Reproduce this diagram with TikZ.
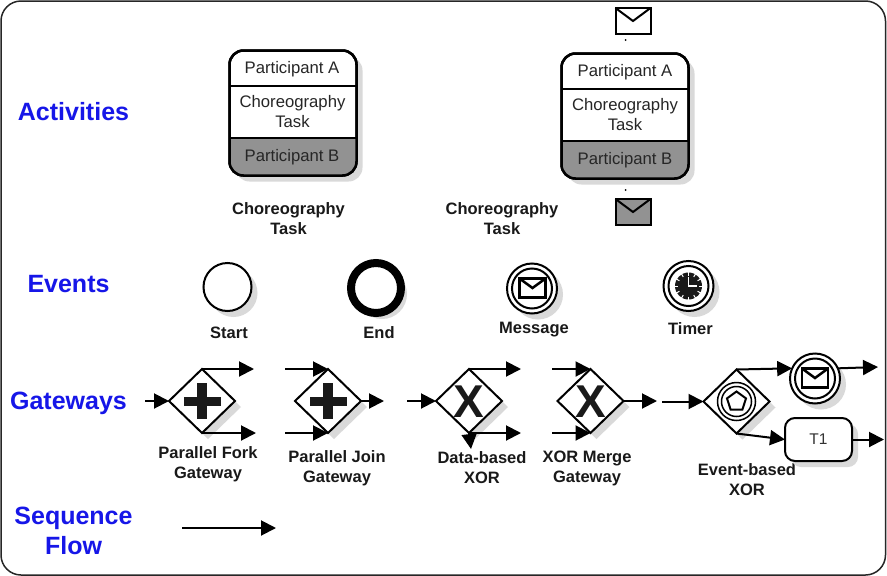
\documentclass[tikz,border=0pt]{standalone}
\usepackage{fontspec}
\setmainfont{Liberation Sans}
\usetikzlibrary{arrows.meta,shapes.geometric,shadows}
\definecolor{shgray}{RGB}{217,217,217}
\definecolor{partgray}{RGB}{146,146,146}
\definecolor{headblue}{RGB}{22,22,232}
\tikzset{
  frame/.style={draw=black!85,line width=1.5pt,rounded corners=20pt},
  shad/.style={drop shadow={shadow xshift=6pt,shadow yshift=-6pt,opacity=1,fill=shgray}},
  head/.style={font=\fontsize{25}{30}\selectfont\bfseries,text=headblue,align=center,inner sep=0pt},
  lab/.style={font=\fontsize{16.5}{20}\selectfont\bfseries,align=center,inner sep=0pt,text=black!90},
  inbox/.style={font=\fontsize{16.7}{20}\selectfont,align=center,inner sep=0pt,text=black!85},
  chor/.style={draw,line width=2.5pt,rounded corners=14pt,minimum width=127pt,minimum height=125pt,inner sep=0pt,outer sep=0pt,fill=white,shad},
  evt/.style={circle,draw,line width=2pt,inner sep=0pt,outer sep=0pt,fill=white,shad},
  gate/.style={diamond,draw,line width=2pt,inner sep=0pt,outer sep=0pt,fill=white,minimum width=66pt,minimum height=64pt,shad},
  xmark/.style={font=\fontsize{46}{46}\selectfont\bfseries,inner sep=0pt,text=black!90},
  flow/.style={draw,line width=2pt,-{Triangle[length=15pt,width=15pt]}},
  divider/.style={draw,line width=2.5pt},
  taskbox/.style={draw,line width=2pt,rounded corners=10pt,minimum width=67pt,minimum height=43pt,inner sep=0pt,outer sep=0pt,fill=white,shad,font=\fontsize{15.5}{18}\selectfont,text=black!80},
}
\newcommand{\envicon}[6]{%
  \begin{scope}[shift={(#1,#2)}]
    \draw[line width=#5,fill=#6,line join=miter] (-#3,-#4) rectangle (#3,#4);
    \draw[line width=#5,line join=miter] (-#3,-#4) -- (0,0) -- (#3,-#4);
  \end{scope}}
\newcommand{\plusmark}[2]{%
  \fill[black!90] (#1-18.5,#2-4.5) rectangle (#1+18.5,#2+4.5);
  \fill[black!90] (#1-5,#2-18) rectangle (#1+5,#2+18);}
\begin{document}
\begin{tikzpicture}[x=1pt,y=-1pt]
\useasboundingbox (0,0) rectangle (887,576);
\draw[frame,fill=white] (1,1) rectangle (885.5,575);

% headings
\node[head] (hact) at (73.5,112) {Activities};
\node[head] (hevt) at (68.5,284) {Events};
\node[head] (hgat) at (68.5,403) {Gateways};
\node[head] (hseq) at (73.5,530.5) {Sequence\\Flow};

% choreography task 1
\node[chor] (c1) at (293,113) {};
\begin{scope}
  \clip[rounded corners=14pt] (229,50) rectangle (356.5,175.5);
  \fill[partgray] (229,138) rectangle (357,176);
\end{scope}
\draw[line width=2.5pt,rounded corners=14pt] (229.5,50.5) rectangle (356.5,175.5);
\coordinate (c1al) at (229,86); \coordinate (c1ar) at (357,86);
\coordinate (c1bl) at (229,138); \coordinate (c1br) at (357,138);
\draw[divider] (c1al) -- (c1ar);
\draw[divider] (c1bl) -- (c1br);
\node[inbox] (c1a) at (292,69) {Participant A};
\node[inbox] (c1t) at (292.5,112) {Choreography\\Task};
\node[inbox] (c1p) at (292,157) {Participant B};
\node[lab] (l1) at (288.5,219) {Choreography\\Task};

% choreography task 2
\node[chor] (c2) at (625,116) {};
\begin{scope}
  \clip[rounded corners=14pt] (561.5,53.5) rectangle (688.5,178.5);
  \fill[partgray] (561,141) rectangle (689,179);
\end{scope}
\draw[line width=2.5pt,rounded corners=14pt] (561.5,53.5) rectangle (688.5,178.5);
\coordinate (c2al) at (561,89); \coordinate (c2ar) at (689,89);
\coordinate (c2bl) at (561,141); \coordinate (c2br) at (689,141);
\draw[divider] (c2al) -- (c2ar);
\draw[divider] (c2bl) -- (c2br);
\node[inbox] (c2a) at (625,72) {Participant A};
\node[inbox] (c2t) at (625,115) {Choreography\\Task};
\node[inbox] (c2p) at (625,160) {Participant B};
\node[lab] (l2) at (502,219) {Choreography\\Task};
\envicon{633}{21}{17.5}{13}{2pt}{white}
\envicon{633}{212}{17.5}{13}{2pt}{partgray}
\fill (625.5,40) circle (1pt);
\fill (625.5,190) circle (1pt);

% events
\node[evt,minimum size=48pt] (start) at (227.5,287) {};
\node[lab] (lstart) at (229,333) {Start};
\node[evt,minimum size=50pt,line width=8pt] (end) at (376,288) {};
\node[lab] (lend) at (379,333) {End};
\node[evt,minimum size=50pt] (msg) at (532,288.5) {};
\draw[line width=2pt] (msg.center) circle (20);
\envicon{532.5}{288}{13}{9.5}{2.5pt}{white}
\node[lab] (lmsg) at (534,330) {Message};
\node[evt,minimum size=50pt] (tim) at (688.5,286) {};
\draw[line width=2pt] (tim.center) circle (20);
\fill[black!90] (tim.center) circle (13.5);
\foreach \a in {0,30,...,330}{
  \draw[white,line width=1pt] (tim.center) ++(\a:10.5) -- ++(\a:3.5);
}
\draw[white,line width=1.5pt] (688.5,277) -- (688.5,286) -- (697,286);
\node[lab] (ltim) at (690.5,329) {Timer};

% gateways
\node[gate] (fork) at (202,401) {};
\plusmark{202}{401}
\coordinate (forkin) at (145,401);
\coordinate (forkt) at (254,369);
\coordinate (forkb) at (256,433);
\draw[flow] (forkin) -- (fork.west);
\draw[flow] (fork.north) -- (forkt);
\draw[flow] (fork.south) -- (forkb);
\node[lab] (lfork) at (208,464.5) {Parallel Fork\\Gateway};

\node[gate] (join) at (328,401) {};
\plusmark{328}{401}
\coordinate (joint) at (285,369);
\coordinate (joinb) at (285,433);
\coordinate (joino) at (384,401);
\draw[flow] (joint) -- (join.north);
\draw[flow] (joinb) -- (join.south);
\draw[flow] (join.east) -- (joino);
\node[lab] (ljoin) at (337,468.5) {Parallel Join\\Gateway};

\node[gate] (xor) at (469,401) {};
\node[xmark] (xorx) at (469,402) {X};
\coordinate (xorin) at (407,401);
\coordinate (xort) at (521,369);
\coordinate (xorb) at (521,433);
\coordinate (xord) at (471,449);
\draw[flow] (xorin) -- (xor.west);
\draw[flow] (xor.north) -- (xort);
\draw[flow] (xor.south) -- (xorb);
\draw[flow] (xor.south) -- (xord);
\node[lab] (lxor) at (482,467.5) {Data-based\\XOR};

\node[gate] (mrg) at (590.5,401) {};
\node[xmark] (mrgx) at (591,402) {X};
\coordinate (mrgt) at (552,369);
\coordinate (mrgb) at (552,433);
\coordinate (mrgo) at (657,401);
\draw[flow] (mrgt) -- (mrg.north);
\draw[flow] (mrgb) -- (mrg.south);
\draw[flow] (mrg.east) -- (mrgo);
\node[lab] (lmrg) at (587,468.5) {XOR Merge\\Gateway};

\node[gate] (ebg) at (736.5,401.5) {};
\draw[line width=1.5pt] (ebg.center) circle (19);
\draw[line width=1.5pt] (ebg.center) circle (15);
\node[regular polygon,regular polygon sides=5,draw,line width=2pt,inner sep=0pt,minimum size=20pt] (ebgp) at (736.5,401.5) {};
\coordinate (ebgin) at (662,401.5);
\draw[flow] (ebgin) -- (ebg.west);
\node[lab] (lebg) at (747,480) {Event-based\\XOR};

\node[evt,minimum size=50pt] (cm) at (815,378.5) {};
\draw[line width=2pt] (cm.center) circle (20);
\envicon{815}{378}{13}{9.5}{2.5pt}{white}
\node[taskbox] (t1) at (818.5,439.5) {T1};
\coordinate (cmo) at (878,367);
\coordinate (t1o) at (884,439.5);
\draw[flow] (ebg.north) -- (cm.156);
\draw[flow] (ebg.south) -- (t1.west);
\draw[flow] (cm.24) -- (cmo);
\draw[flow] (t1.east) -- (t1o);

% sequence flow legend
\coordinate (sfa) at (182,528);
\coordinate (sfb) at (276,528);
\draw[flow] (sfa) -- (sfb);
\end{tikzpicture}
\end{document}
